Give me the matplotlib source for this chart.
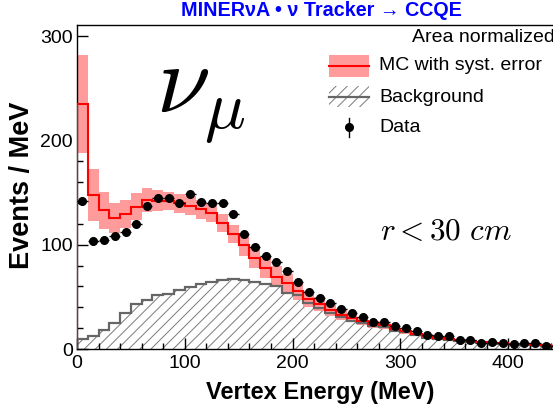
import numpy as np
import matplotlib
matplotlib.use("Agg")
import matplotlib.pyplot as plt
from matplotlib.patches import Rectangle
from matplotlib.lines import Line2D
from matplotlib.ticker import MultipleLocator

plt.rcParams['font.family'] = ['Liberation Sans', 'DejaVu Sans']
plt.rcParams['mathtext.fontset'] = 'cm'
plt.rcParams['hatch.linewidth'] = 0.7

# Vertex energy bins (MeV), 10 MeV wide
bin_edges = np.arange(0, 460, 10)

# Data (area normalized), events / MeV
data = [142, 104, 105, 108, 112, 120, 137, 145, 145, 140,
        149, 141, 140, 140, 130, 110, 97.5, 89, 83.5, 75,
        64.5, 55, 49, 44, 38.8, 34.3, 30.8, 26.3, 25.5, 22,
        20.5, 17, 13.5, 12.8, 12.3, 9, 8.2, 5.7, 6.8, 6,
        4.7, 5.5, 5.5, 3, 2.5]
data_err = [3.5, 3, 3, 3, 3, 3, 3.5, 3.5, 3.5, 3.5,
            3.5, 3.5, 3.5, 3.5, 3.5, 3, 3, 3, 2.8, 2.6,
            2.4, 2.2, 2, 2, 1.8, 1.7, 1.6, 1.5, 1.5, 1.4,
            1.4, 1.3, 1.1, 1.1, 1.1, 1, 0.9, 0.8, 0.8, 0.8,
            0.7, 0.7, 0.7, 0.5, 0.5]

# Simulation with systematic uncertainty
mc = [235, 148, 133, 126, 130, 136.5, 143, 142.5, 142, 140,
      137.5, 134, 131, 121, 110.5, 99.7, 87.8, 78, 69.5, 63,
      55.5, 48, 43, 37.5, 32.7, 30, 27, 23.7, 22.8, 19,
      17.3, 14.5, 12, 11, 9.5, 8.5, 7.5, 6.5, 6, 5.5,
      5, 4.5, 4, 3.5, 3]
mc_syst = [47, 25, 18, 14.5, 13.5, 13, 11.5, 10, 9, 9,
           9, 9, 9, 9, 9, 10, 10, 10, 10, 9,
           8.5, 7.5, 6.5, 6, 5, 4.5, 4, 3.5, 3.5, 3,
           2.7, 2.3, 2, 1.8, 1.6, 1.4, 1.2, 1.1, 1, 1,
           0.9, 0.8, 0.7, 0.6, 0.5]

# Background prediction
bkg = [10, 12.5, 18, 24.7, 35, 43, 47, 52, 53, 56.7,
       59.6, 62, 64.4, 66, 67, 66.3, 64.7, 62, 60.6, 54,
       52, 44.5, 39.7, 34.3, 30.8, 27, 25, 22, 21, 17.5,
       16, 13.5, 11, 10, 8.5, 7.7, 6.8, 6, 5.4, 5,
       4.5, 4, 3.6, 3.2, 2.7]

x_ticks = [0, 100, 200, 300, 400]
y_ticks = [0, 100, 200, 300]

edges = np.asarray(bin_edges, dtype=float)
centers = 0.5 * (edges[:-1] + edges[1:])
half_w = 0.5 * np.diff(edges)
mc_a = np.asarray(mc)
syst_a = np.asarray(mc_syst)

W, H = 553, 405
fig = plt.figure(figsize=(W / 100, H / 100), dpi=100)


def fx(px):
    return px / W


def fy(py):
    return 1 - py / H


ax = fig.add_axes([fx(77), 56 / H, 539 / W, 324 / H])

pink = '#ff9b9b'
hatch_col = '#7a7a7a'

# background: hatched area and outline
ax.stairs(bkg, edges, fill=True, facecolor='none', edgecolor=hatch_col,
          linewidth=0, hatch='///', zorder=1)
# MC systematic band
ax.stairs(mc_a + syst_a, edges, baseline=mc_a - syst_a, fill=True,
          facecolor=pink, edgecolor='none', linewidth=0, zorder=2)
ax.stairs(bkg, edges, color='#666666', linewidth=1.6, zorder=3)
# MC central value
ax.stairs(mc_a, edges, color='#ff0000', linewidth=1.5, zorder=4)
# data points
ax.errorbar(centers, data, yerr=data_err, xerr=half_w, fmt='o', color='k',
            ms=5.5, elinewidth=1, capsize=0, zorder=5)

ax.set_xlim(0, 500)
ax.set_ylim(0, 311)
ax.set_xticks(x_ticks)
ax.set_yticks(y_ticks)
ax.xaxis.set_minor_locator(MultipleLocator(20))
ax.yaxis.set_minor_locator(MultipleLocator(20))
ax.tick_params(which='both', direction='in', top=False, right=False,
               labelsize=14, width=1)
ax.tick_params(which='major', length=8)
ax.tick_params(which='minor', length=4)
ax.tick_params(axis='x', pad=4)
ax.tick_params(axis='y', pad=3)
ax.spines['right'].set_visible(False)
for s in ('left', 'bottom', 'top'):
    ax.spines[s].set_linewidth(1)

fig.text(fx(320), fy(392), 'Vertex Energy (MeV)', ha='center', va='center',
         fontsize=17, fontweight='bold')
fig.text(fx(22), fy(185), 'Events / MeV', ha='center', va='center',
         rotation=90, fontsize=19.5, fontweight='bold')

fig.text(fx(321), fy(11), 'MINERνA • ν Tracker → CCQE', ha='center',
         va='center', color='#0000ff', fontsize=14.2, fontweight='bold')

fig.text(fx(412), fy(38), 'Area normalized', ha='left', va='center',
         fontsize=14)

# legend
fig.add_artist(Rectangle((fx(329), fy(77)), 40 / W, 22 / H,
                         transform=fig.transFigure, facecolor=pink,
                         edgecolor='none'))
fig.add_artist(Line2D([fx(329), fx(369)], [fy(66), fy(66)], color='#ff0000',
                      lw=1.5, transform=fig.transFigure))
fig.text(fx(379), fy(65), 'MC with syst. error', va='center', fontsize=14)

fig.add_artist(Rectangle((fx(329), fy(107)), 40 / W, 21 / H,
                         transform=fig.transFigure, facecolor='none',
                         edgecolor=hatch_col, linewidth=0, hatch='///'))
fig.add_artist(Line2D([fx(329), fx(369)], [fy(97), fy(97)], color='#666666',
                      lw=1.6, transform=fig.transFigure))
fig.text(fx(379), fy(97), 'Background', va='center', fontsize=14)

fig.add_artist(Line2D([fx(349), fx(349)], [fy(137), fy(118)], color='k',
                      lw=1, transform=fig.transFigure))
fig.add_artist(Line2D([fx(349)], [fy(127)], marker='o', ms=5.5, color='k',
                      transform=fig.transFigure))
fig.text(fx(379), fy(128), 'Data', va='center', fontsize=14)

fig.text(fx(156), fy(112), r'$\nu_\mu$', fontsize=70, va='baseline')
fig.text(fx(380), fy(240), r'$r < 30\ cm$', fontsize=22.5, va='baseline')

fig.savefig('out.png', dpi=100)
